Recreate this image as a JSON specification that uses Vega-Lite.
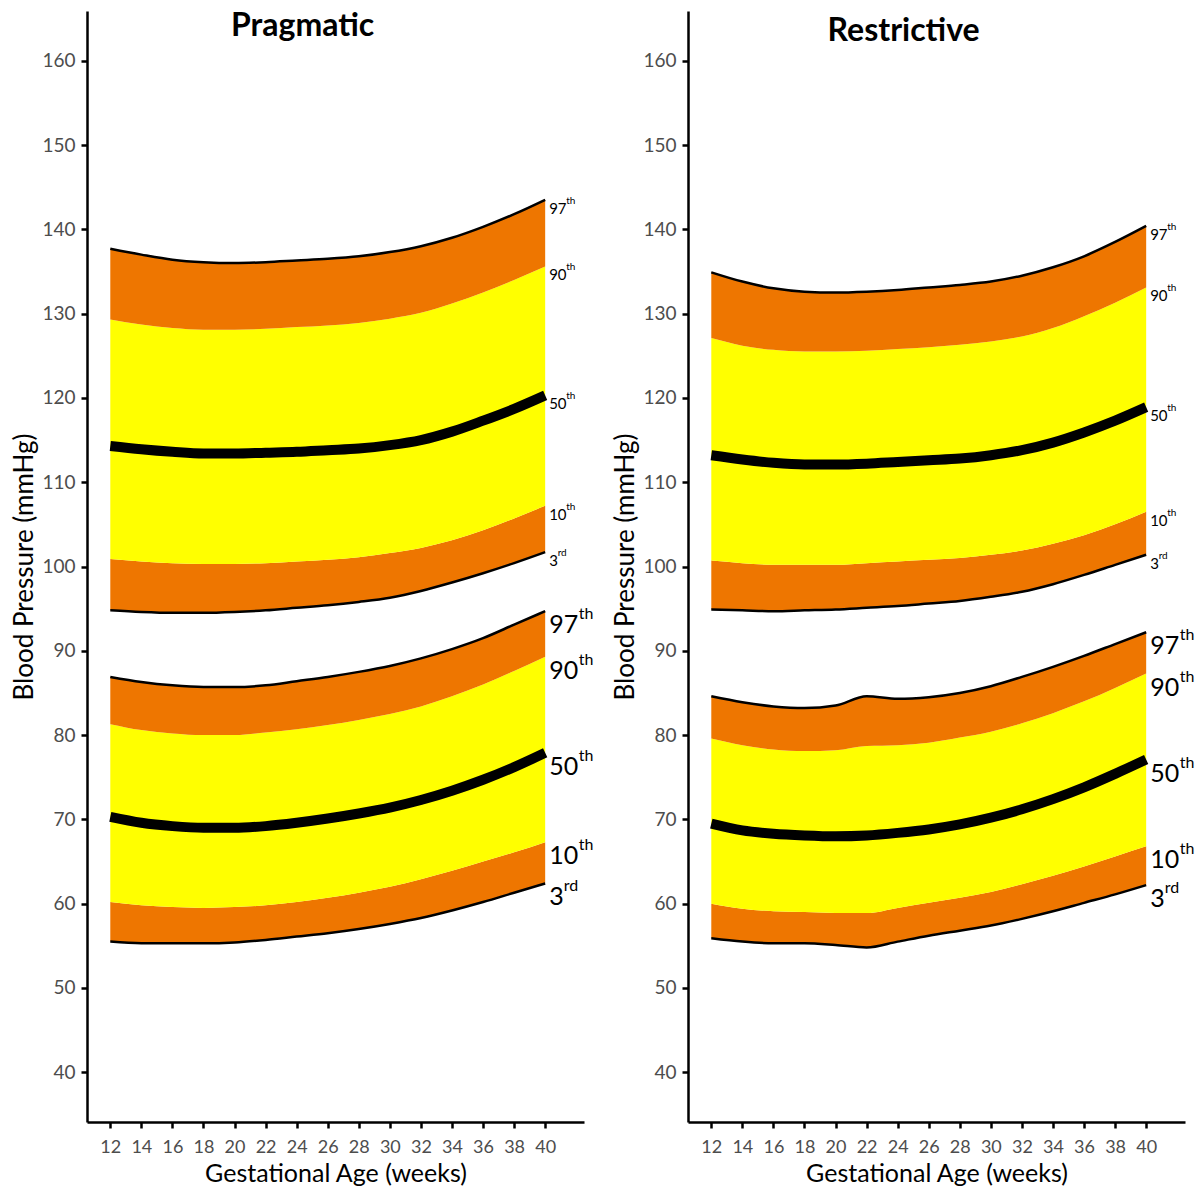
{
  "$schema": "https://vega.github.io/schema/vega-lite/v6.json",
  "padding": {"left": 11, "top": 10, "right": 0, "bottom": 0},
  "autosize": {"type": "pad"},
  "background": "white",
  "spacing": 18,
  "config": {
    "view": {"stroke": null},
    "font": "Lato",
    "axis": {"domainColor": "black", "domainWidth": 2.5, "tickColor": "black", "tickWidth": 2.5, "tickSize": 6, "labelColor": "#4D4D4D", "labelFontSize": 19, "labelFont": "Lato", "titleFont": "Lato", "titleFontSize": 26, "titleColor": "black", "titleFontWeight": "normal", "grid": false, "labelOverlap": false, "labelFlush": false},
    "axisX": {"labelPadding": 10, "labelFontSize": 18, "titlePadding": 5, "titleFontSize": 25},
    "axisY": {"labelPadding": 6, "titlePadding": 4},
    "title": {"font": "Lato", "fontSize": 32, "fontWeight": "bold", "anchor": "middle", "frame": "bounds", "color": "black"}
  },
  "datasets": {
    "bp": [
      {"panel": "Pragmatic", "grp": "Systolic", "ga": 12, "p3": 94.8, "p10": 100.9, "p50": 114.3, "p90": 129.3, "p97": 137.7},
      {"panel": "Pragmatic", "grp": "Systolic", "ga": 14, "p3": 94.6, "p10": 100.6, "p50": 113.9, "p90": 128.7, "p97": 137.0},
      {"panel": "Pragmatic", "grp": "Systolic", "ga": 16, "p3": 94.5, "p10": 100.4, "p50": 113.6, "p90": 128.3, "p97": 136.4},
      {"panel": "Pragmatic", "grp": "Systolic", "ga": 18, "p3": 94.5, "p10": 100.3, "p50": 113.4, "p90": 128.1, "p97": 136.1},
      {"panel": "Pragmatic", "grp": "Systolic", "ga": 20, "p3": 94.6, "p10": 100.3, "p50": 113.4, "p90": 128.1, "p97": 136.0},
      {"panel": "Pragmatic", "grp": "Systolic", "ga": 22, "p3": 94.8, "p10": 100.4, "p50": 113.5, "p90": 128.2, "p97": 136.1},
      {"panel": "Pragmatic", "grp": "Systolic", "ga": 24, "p3": 95.1, "p10": 100.6, "p50": 113.6, "p90": 128.4, "p97": 136.3},
      {"panel": "Pragmatic", "grp": "Systolic", "ga": 26, "p3": 95.4, "p10": 100.8, "p50": 113.8, "p90": 128.6, "p97": 136.5},
      {"panel": "Pragmatic", "grp": "Systolic", "ga": 28, "p3": 95.8, "p10": 101.1, "p50": 114.0, "p90": 128.9, "p97": 136.8},
      {"panel": "Pragmatic", "grp": "Systolic", "ga": 30, "p3": 96.3, "p10": 101.6, "p50": 114.4, "p90": 129.4, "p97": 137.3},
      {"panel": "Pragmatic", "grp": "Systolic", "ga": 32, "p3": 97.1, "p10": 102.2, "p50": 115.0, "p90": 130.1, "p97": 138.0},
      {"panel": "Pragmatic", "grp": "Systolic", "ga": 34, "p3": 98.1, "p10": 103.1, "p50": 116.0, "p90": 131.2, "p97": 139.0},
      {"panel": "Pragmatic", "grp": "Systolic", "ga": 36, "p3": 99.2, "p10": 104.3, "p50": 117.3, "p90": 132.5, "p97": 140.3},
      {"panel": "Pragmatic", "grp": "Systolic", "ga": 38, "p3": 100.4, "p10": 105.7, "p50": 118.7, "p90": 134.0, "p97": 141.8},
      {"panel": "Pragmatic", "grp": "Systolic", "ga": 40, "p3": 101.7, "p10": 107.2, "p50": 120.3, "p90": 135.6, "p97": 143.5},
      {"panel": "Pragmatic", "grp": "Diastolic", "ga": 12, "p3": 55.5, "p10": 60.2, "p50": 70.3, "p90": 81.3, "p97": 86.9},
      {"panel": "Pragmatic", "grp": "Diastolic", "ga": 14, "p3": 55.3, "p10": 59.8, "p50": 69.6, "p90": 80.6, "p97": 86.3},
      {"panel": "Pragmatic", "grp": "Diastolic", "ga": 16, "p3": 55.3, "p10": 59.6, "p50": 69.2, "p90": 80.2, "p97": 85.9},
      {"panel": "Pragmatic", "grp": "Diastolic", "ga": 18, "p3": 55.3, "p10": 59.5, "p50": 69.0, "p90": 80.0, "p97": 85.7},
      {"panel": "Pragmatic", "grp": "Diastolic", "ga": 20, "p3": 55.4, "p10": 59.6, "p50": 69.0, "p90": 80.0, "p97": 85.7},
      {"panel": "Pragmatic", "grp": "Diastolic", "ga": 22, "p3": 55.7, "p10": 59.8, "p50": 69.2, "p90": 80.3, "p97": 85.9},
      {"panel": "Pragmatic", "grp": "Diastolic", "ga": 24, "p3": 56.1, "p10": 60.2, "p50": 69.6, "p90": 80.7, "p97": 86.4},
      {"panel": "Pragmatic", "grp": "Diastolic", "ga": 26, "p3": 56.5, "p10": 60.7, "p50": 70.1, "p90": 81.2, "p97": 86.9},
      {"panel": "Pragmatic", "grp": "Diastolic", "ga": 28, "p3": 57.0, "p10": 61.3, "p50": 70.7, "p90": 81.8, "p97": 87.5},
      {"panel": "Pragmatic", "grp": "Diastolic", "ga": 30, "p3": 57.6, "p10": 62.0, "p50": 71.4, "p90": 82.5, "p97": 88.2},
      {"panel": "Pragmatic", "grp": "Diastolic", "ga": 32, "p3": 58.3, "p10": 62.9, "p50": 72.3, "p90": 83.4, "p97": 89.1},
      {"panel": "Pragmatic", "grp": "Diastolic", "ga": 34, "p3": 59.2, "p10": 63.9, "p50": 73.4, "p90": 84.6, "p97": 90.2},
      {"panel": "Pragmatic", "grp": "Diastolic", "ga": 36, "p3": 60.2, "p10": 65.0, "p50": 74.7, "p90": 86.0, "p97": 91.5},
      {"panel": "Pragmatic", "grp": "Diastolic", "ga": 38, "p3": 61.3, "p10": 66.1, "p50": 76.2, "p90": 87.6, "p97": 93.1},
      {"panel": "Pragmatic", "grp": "Diastolic", "ga": 40, "p3": 62.4, "p10": 67.3, "p50": 77.9, "p90": 89.3, "p97": 94.7},
      {"panel": "Restrictive", "grp": "Systolic", "ga": 12, "p3": 94.9, "p10": 100.7, "p50": 113.2, "p90": 127.1, "p97": 134.9},
      {"panel": "Restrictive", "grp": "Systolic", "ga": 14, "p3": 94.8, "p10": 100.4, "p50": 112.7, "p90": 126.2, "p97": 133.8},
      {"panel": "Restrictive", "grp": "Systolic", "ga": 16, "p3": 94.7, "p10": 100.2, "p50": 112.3, "p90": 125.7, "p97": 133.0},
      {"panel": "Restrictive", "grp": "Systolic", "ga": 18, "p3": 94.8, "p10": 100.2, "p50": 112.1, "p90": 125.5, "p97": 132.6},
      {"panel": "Restrictive", "grp": "Systolic", "ga": 20, "p3": 94.9, "p10": 100.2, "p50": 112.1, "p90": 125.5, "p97": 132.5},
      {"panel": "Restrictive", "grp": "Systolic", "ga": 22, "p3": 95.1, "p10": 100.4, "p50": 112.2, "p90": 125.6, "p97": 132.6},
      {"panel": "Restrictive", "grp": "Systolic", "ga": 24, "p3": 95.3, "p10": 100.6, "p50": 112.4, "p90": 125.8, "p97": 132.8},
      {"panel": "Restrictive", "grp": "Systolic", "ga": 26, "p3": 95.6, "p10": 100.8, "p50": 112.6, "p90": 126.0, "p97": 133.1},
      {"panel": "Restrictive", "grp": "Systolic", "ga": 28, "p3": 95.9, "p10": 101.0, "p50": 112.8, "p90": 126.3, "p97": 133.4},
      {"panel": "Restrictive", "grp": "Systolic", "ga": 30, "p3": 96.4, "p10": 101.4, "p50": 113.2, "p90": 126.7, "p97": 133.8},
      {"panel": "Restrictive", "grp": "Systolic", "ga": 32, "p3": 97.0, "p10": 101.9, "p50": 113.8, "p90": 127.3, "p97": 134.5},
      {"panel": "Restrictive", "grp": "Systolic", "ga": 34, "p3": 97.9, "p10": 102.7, "p50": 114.7, "p90": 128.3, "p97": 135.5},
      {"panel": "Restrictive", "grp": "Systolic", "ga": 36, "p3": 99.0, "p10": 103.7, "p50": 115.9, "p90": 129.7, "p97": 136.8},
      {"panel": "Restrictive", "grp": "Systolic", "ga": 38, "p3": 100.2, "p10": 105.0, "p50": 117.3, "p90": 131.3, "p97": 138.5},
      {"panel": "Restrictive", "grp": "Systolic", "ga": 40, "p3": 101.4, "p10": 106.5, "p50": 118.9, "p90": 133.1, "p97": 140.4},
      {"panel": "Restrictive", "grp": "Diastolic", "ga": 12, "p3": 55.9, "p10": 60.0, "p50": 69.5, "p90": 79.6, "p97": 84.6},
      {"panel": "Restrictive", "grp": "Diastolic", "ga": 14, "p3": 55.5, "p10": 59.4, "p50": 68.7, "p90": 78.8, "p97": 83.9},
      {"panel": "Restrictive", "grp": "Diastolic", "ga": 16, "p3": 55.3, "p10": 59.1, "p50": 68.3, "p90": 78.3, "p97": 83.4},
      {"panel": "Restrictive", "grp": "Diastolic", "ga": 18, "p3": 55.3, "p10": 59.0, "p50": 68.1, "p90": 78.1, "p97": 83.2},
      {"panel": "Restrictive", "grp": "Diastolic", "ga": 20, "p3": 55.1, "p10": 58.9, "p50": 68.0, "p90": 78.2, "p97": 83.5},
      {"panel": "Restrictive", "grp": "Diastolic", "ga": 22, "p3": 54.8, "p10": 58.9, "p50": 68.1, "p90": 78.7, "p97": 84.6},
      {"panel": "Restrictive", "grp": "Diastolic", "ga": 24, "p3": 55.5, "p10": 59.5, "p50": 68.4, "p90": 78.8, "p97": 84.3},
      {"panel": "Restrictive", "grp": "Diastolic", "ga": 26, "p3": 56.2, "p10": 60.1, "p50": 68.8, "p90": 79.1, "p97": 84.5},
      {"panel": "Restrictive", "grp": "Diastolic", "ga": 28, "p3": 56.8, "p10": 60.7, "p50": 69.4, "p90": 79.7, "p97": 85.0},
      {"panel": "Restrictive", "grp": "Diastolic", "ga": 30, "p3": 57.4, "p10": 61.4, "p50": 70.2, "p90": 80.4, "p97": 85.8},
      {"panel": "Restrictive", "grp": "Diastolic", "ga": 32, "p3": 58.2, "p10": 62.3, "p50": 71.2, "p90": 81.4, "p97": 86.9},
      {"panel": "Restrictive", "grp": "Diastolic", "ga": 34, "p3": 59.1, "p10": 63.3, "p50": 72.4, "p90": 82.6, "p97": 88.1},
      {"panel": "Restrictive", "grp": "Diastolic", "ga": 36, "p3": 60.1, "p10": 64.4, "p50": 73.8, "p90": 84.0, "p97": 89.4},
      {"panel": "Restrictive", "grp": "Diastolic", "ga": 38, "p3": 61.1, "p10": 65.6, "p50": 75.4, "p90": 85.6, "p97": 90.8},
      {"panel": "Restrictive", "grp": "Diastolic", "ga": 40, "p3": 62.2, "p10": 66.8, "p50": 77.1, "p90": 87.3, "p97": 92.2}
    ]
  },
  "hconcat": [
    {
      "data": {"name": "bp"},
      "transform": [{"filter": "datum.panel == 'Pragmatic'"}],
      "width": 497,
      "height": 1111,
      "title": {"text": "Pragmatic", "offset": -32},
      "encoding": {
        "x": {"field": "ga", "type": "quantitative", "scale": {"domain": [10.5, 42.5], "nice": false, "zero": false}, "axis": {"values": [12, 14, 16, 18, 20, 22, 24, 26, 28, 30, 32, 34, 36, 38, 40], "title": "Gestational Age (weeks)"}}
      },
      "layer": [
        {"mark": {"type": "area", "color": "#EE7600", "interpolate": "monotone"}, "encoding": {"y": {"field": "p3", "type": "quantitative", "scale": {"domain": [34.1, 165.9], "nice": false, "zero": false}, "axis": {"values": [40, 50, 60, 70, 80, 90, 100, 110, 120, 130, 140, 150, 160]}, "title": "Blood Pressure (mmHg)"}, "y2": {"field": "p10"}, "detail": {"field": "grp"}}},
        {"mark": {"type": "area", "color": "#FFFF00", "interpolate": "monotone"}, "encoding": {"y": {"field": "p10", "type": "quantitative", "title": "Blood Pressure (mmHg)"}, "y2": {"field": "p90"}, "detail": {"field": "grp"}}},
        {"mark": {"type": "area", "color": "#EE7600", "interpolate": "monotone"}, "encoding": {"y": {"field": "p90", "type": "quantitative", "title": "Blood Pressure (mmHg)"}, "y2": {"field": "p97"}, "detail": {"field": "grp"}}},
        {"mark": {"type": "line", "color": "black", "strokeWidth": 2.5, "interpolate": "monotone"}, "encoding": {"y": {"field": "p97", "type": "quantitative", "title": "Blood Pressure (mmHg)"}, "detail": {"field": "grp"}}},
        {"mark": {"type": "line", "color": "black", "strokeWidth": 2.5, "interpolate": "monotone"}, "encoding": {"y": {"field": "p3", "type": "quantitative", "title": "Blood Pressure (mmHg)"}, "detail": {"field": "grp"}}},
        {"mark": {"type": "line", "color": "black", "strokeWidth": 10, "interpolate": "monotone"}, "encoding": {"y": {"field": "p50", "type": "quantitative", "title": "Blood Pressure (mmHg)"}, "detail": {"field": "grp"}}},
        {
          "transform": [{"filter": "datum.ga == 40"}, {"fold": ["p3", "p10", "p50", "p90", "p97"], "as": ["pct", "val"]}, {"calculate": "substring(datum.pct, 1)", "as": "num"}],
          "layer": [
            {"mark": {"type": "text", "align": "left", "baseline": "top", "dx": 4, "dy": 2, "font": "Lato"}, "encoding": {"y": {"field": "val", "type": "quantitative", "title": "Blood Pressure (mmHg)"}, "text": {"field": "num"}, "size": {"field": "grp", "type": "nominal", "scale": {"domain": ["Systolic", "Diastolic"], "range": [15, 25]}, "legend": null}}},
            {"transform": [{"filter": "datum.grp == 'Systolic' && datum.pct != 'p3'"}], "mark": {"type": "text", "align": "left", "baseline": "top", "dx": 21, "dy": -4, "fontSize": 10, "font": "Lato"}, "encoding": {"y": {"field": "val", "type": "quantitative", "title": "Blood Pressure (mmHg)"}, "text": {"value": "th"}}},
            {"transform": [{"filter": "datum.grp == 'Systolic' && datum.pct == 'p3'"}], "mark": {"type": "text", "align": "left", "baseline": "top", "dx": 12.5, "dy": -4, "fontSize": 10, "font": "Lato"}, "encoding": {"y": {"field": "val", "type": "quantitative", "title": "Blood Pressure (mmHg)"}, "text": {"value": "rd"}}},
            {"transform": [{"filter": "datum.grp == 'Diastolic' && datum.pct != 'p3'"}], "mark": {"type": "text", "align": "left", "baseline": "top", "dx": 33.5, "dy": -5, "fontSize": 16, "font": "Lato"}, "encoding": {"y": {"field": "val", "type": "quantitative", "title": "Blood Pressure (mmHg)"}, "text": {"value": "th"}}},
            {"transform": [{"filter": "datum.grp == 'Diastolic' && datum.pct == 'p3'"}], "mark": {"type": "text", "align": "left", "baseline": "top", "dx": 18.5, "dy": -5, "fontSize": 16, "font": "Lato"}, "encoding": {"y": {"field": "val", "type": "quantitative", "title": "Blood Pressure (mmHg)"}, "text": {"value": "rd"}}}
          ]
        }
      ]
    },
    {
      "data": {"name": "bp"},
      "transform": [{"filter": "datum.panel == 'Restrictive'"}],
      "width": 497,
      "height": 1111,
      "title": {"text": "Restrictive", "offset": -37},
      "encoding": {
        "x": {"field": "ga", "type": "quantitative", "scale": {"domain": [10.5, 42.5], "nice": false, "zero": false}, "axis": {"values": [12, 14, 16, 18, 20, 22, 24, 26, 28, 30, 32, 34, 36, 38, 40], "title": "Gestational Age (weeks)"}}
      },
      "layer": [
        {"mark": {"type": "area", "color": "#EE7600", "interpolate": "monotone"}, "encoding": {"y": {"field": "p3", "type": "quantitative", "scale": {"domain": [34.1, 165.9], "nice": false, "zero": false}, "axis": {"values": [40, 50, 60, 70, 80, 90, 100, 110, 120, 130, 140, 150, 160]}, "title": "Blood Pressure (mmHg)"}, "y2": {"field": "p10"}, "detail": {"field": "grp"}}},
        {"mark": {"type": "area", "color": "#FFFF00", "interpolate": "monotone"}, "encoding": {"y": {"field": "p10", "type": "quantitative", "title": "Blood Pressure (mmHg)"}, "y2": {"field": "p90"}, "detail": {"field": "grp"}}},
        {"mark": {"type": "area", "color": "#EE7600", "interpolate": "monotone"}, "encoding": {"y": {"field": "p90", "type": "quantitative", "title": "Blood Pressure (mmHg)"}, "y2": {"field": "p97"}, "detail": {"field": "grp"}}},
        {"mark": {"type": "line", "color": "black", "strokeWidth": 2.5, "interpolate": "monotone"}, "encoding": {"y": {"field": "p97", "type": "quantitative", "title": "Blood Pressure (mmHg)"}, "detail": {"field": "grp"}}},
        {"mark": {"type": "line", "color": "black", "strokeWidth": 2.5, "interpolate": "monotone"}, "encoding": {"y": {"field": "p3", "type": "quantitative", "title": "Blood Pressure (mmHg)"}, "detail": {"field": "grp"}}},
        {"mark": {"type": "line", "color": "black", "strokeWidth": 10, "interpolate": "monotone"}, "encoding": {"y": {"field": "p50", "type": "quantitative", "title": "Blood Pressure (mmHg)"}, "detail": {"field": "grp"}}},
        {
          "transform": [{"filter": "datum.ga == 40"}, {"fold": ["p3", "p10", "p50", "p90", "p97"], "as": ["pct", "val"]}, {"calculate": "substring(datum.pct, 1)", "as": "num"}],
          "layer": [
            {"mark": {"type": "text", "align": "left", "baseline": "top", "dx": 4, "dy": 2, "font": "Lato"}, "encoding": {"y": {"field": "val", "type": "quantitative", "title": "Blood Pressure (mmHg)"}, "text": {"field": "num"}, "size": {"field": "grp", "type": "nominal", "scale": {"domain": ["Systolic", "Diastolic"], "range": [15, 25]}, "legend": null}}},
            {"transform": [{"filter": "datum.grp == 'Systolic' && datum.pct != 'p3'"}], "mark": {"type": "text", "align": "left", "baseline": "top", "dx": 21, "dy": -4, "fontSize": 10, "font": "Lato"}, "encoding": {"y": {"field": "val", "type": "quantitative", "title": "Blood Pressure (mmHg)"}, "text": {"value": "th"}}},
            {"transform": [{"filter": "datum.grp == 'Systolic' && datum.pct == 'p3'"}], "mark": {"type": "text", "align": "left", "baseline": "top", "dx": 12.5, "dy": -4, "fontSize": 10, "font": "Lato"}, "encoding": {"y": {"field": "val", "type": "quantitative", "title": "Blood Pressure (mmHg)"}, "text": {"value": "rd"}}},
            {"transform": [{"filter": "datum.grp == 'Diastolic' && datum.pct != 'p3'"}], "mark": {"type": "text", "align": "left", "baseline": "top", "dx": 33.5, "dy": -5, "fontSize": 16, "font": "Lato"}, "encoding": {"y": {"field": "val", "type": "quantitative", "title": "Blood Pressure (mmHg)"}, "text": {"value": "th"}}},
            {"transform": [{"filter": "datum.grp == 'Diastolic' && datum.pct == 'p3'"}], "mark": {"type": "text", "align": "left", "baseline": "top", "dx": 18.5, "dy": -5, "fontSize": 16, "font": "Lato"}, "encoding": {"y": {"field": "val", "type": "quantitative", "title": "Blood Pressure (mmHg)"}, "text": {"value": "rd"}}}
          ]
        }
      ]
    }
  ]
}
